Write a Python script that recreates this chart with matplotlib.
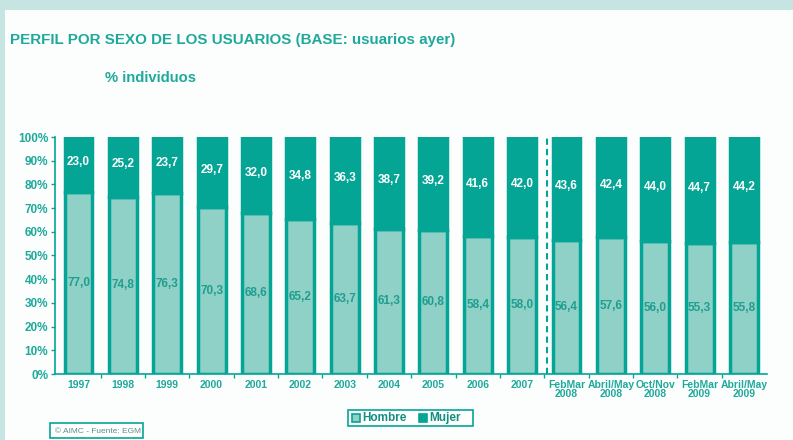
import matplotlib
matplotlib.use("Agg")
import matplotlib.pyplot as plt
from matplotlib.patches import Rectangle
import numpy as np

plt.rcParams['font.family'] = ['Liberation Sans', 'DejaVu Sans']

categories = ["1997", "1998", "1999", "2000", "2001", "2002", "2003", "2004", "2005",
              "2006", "2007", "FebMar\n2008", "Abril/May\n2008", "Oct/Nov\n2008",
              "FebMar\n2009", "Abril/May\n2009"]
hombre = [77.0, 74.8, 76.3, 70.3, 68.0, 65.2, 63.7, 61.3, 60.8, 58.4, 58.0, 56.4, 57.6, 56.0, 55.3, 55.8]
mujer = [23.0, 25.2, 23.7, 29.7, 32.0, 34.8, 36.3, 38.7, 39.2, 41.6, 42.0, 43.6, 42.4, 44.0, 44.7, 44.2]
hombre_labels = ["77,0", "74,8", "76,3", "70,3", "68,6", "65,2", "63,7", "61,3", "60,8",
                 "58,4", "58,0", "56,4", "57,6", "56,0", "55,3", "55,8"]
yticks = [0, 10, 20, 30, 40, 50, 60, 70, 80, 90, 100]

DARK = "#05a596"
LIGHT = "#8fd0c7"
TEXT = "#1fa99b"
FRAME = "#c6e4e2"

W, H = 793, 440
fig = plt.figure(figsize=(W / 100, H / 100), dpi=100)
fig.patch.set_facecolor(FRAME)
fig.add_artist(Rectangle((5 / W, 0), 1, 1 - 10 / H, transform=fig.transFigure,
                         facecolor="#fcfefe", edgecolor="none", zorder=0))

ax = fig.add_axes([55 / W, 1 - 374 / H, (767 - 55) / W, (374 - 137) / H])
ax.set_facecolor("none")
x = np.arange(len(categories))
bw = 0.63
ax.bar(x, hombre, width=bw, color=LIGHT, edgecolor=DARK, linewidth=2.5, zorder=3)
ax.bar(x, mujer, bottom=hombre, width=bw, color=DARK, edgecolor=DARK, linewidth=2.5, zorder=3)

for xi, h, m, hl in zip(x, hombre, mujer, hombre_labels):
    ax.text(xi, h / 2, hl, ha="center", va="center", color="#1f9e90",
            fontsize=8.5, fontweight="bold", zorder=4)
    ax.text(xi, h + m / 2 + 1, f"{m:.1f}".replace(".", ","), ha="center", va="center",
            color="white", fontsize=8.5, fontweight="bold", zorder=4)

ax.axvline(10.55, color=DARK, linestyle=(0, (3, 2)), linewidth=1.5, zorder=2)

ax.set_xlim(-0.53, 15.52)
ax.set_ylim(0, 100)
ax.set_yticks(yticks)
ax.set_yticklabels([f"{t}%" for t in yticks], color=TEXT, fontsize=8.5, fontweight="bold")
ax.set_xticks(x)
ax.set_xticklabels(categories, color=TEXT, fontsize=7.5, fontweight="bold", linespacing=0.95)
ax.tick_params(axis="x", length=0, pad=4)
ax.set_xticks(x[:-1] + 0.5, minor=True)
ax.tick_params(axis="x", which="minor", length=3, color=DARK, width=1)
ax.tick_params(axis="y", length=3, color=DARK, width=1, pad=2)
for s in ["top", "right"]:
    ax.spines[s].set_visible(False)
for s in ["left", "bottom"]:
    ax.spines[s].set_color(DARK)
    ax.spines[s].set_linewidth(1.2)

fig.text(10 / W, 1 - 40 / H, "PERFIL POR SEXO DE LOS USUARIOS (BASE: usuarios ayer)",
         color=TEXT, fontsize=10.9, fontweight="bold", va="center", ha="left")
fig.text(105 / W, 1 - 78 / H, "% individuos", color=TEXT, fontsize=10.6,
         fontweight="bold", va="center", ha="left")

# legend
fig.add_artist(Rectangle((348 / W, 1 - 426 / H), 125 / W, 16 / H, transform=fig.transFigure,
                         facecolor="white", edgecolor=DARK, linewidth=1.2))
fig.add_artist(Rectangle((352 / W, 1 - 422 / H), 8 / W, 8 / H, transform=fig.transFigure,
                         facecolor=LIGHT, edgecolor=DARK, linewidth=1.2))
fig.text(362 / W, 1 - 418 / H, "Hombre", color="#138f82", fontsize=8.5, fontweight="bold",
         va="center", ha="left")
fig.add_artist(Rectangle((419 / W, 1 - 422 / H), 8 / W, 8 / H, transform=fig.transFigure,
                         facecolor=DARK, edgecolor=DARK, linewidth=1.2))
fig.text(429 / W, 1 - 418 / H, "Mujer", color="#138f82", fontsize=8.5, fontweight="bold",
         va="center", ha="left")

# footer
fig.add_artist(Rectangle((50 / W, 1 - 438 / H), 93 / W, 15 / H, transform=fig.transFigure,
                         facecolor="white", edgecolor=DARK, linewidth=1.2))
fig.text(55 / W, 1 - 431 / H, "© AIMC - Fuente: EGM", color="#5a8f8a", fontsize=6,
         va="center", ha="left")

fig.savefig("out.png", dpi=100, facecolor=fig.get_facecolor())
